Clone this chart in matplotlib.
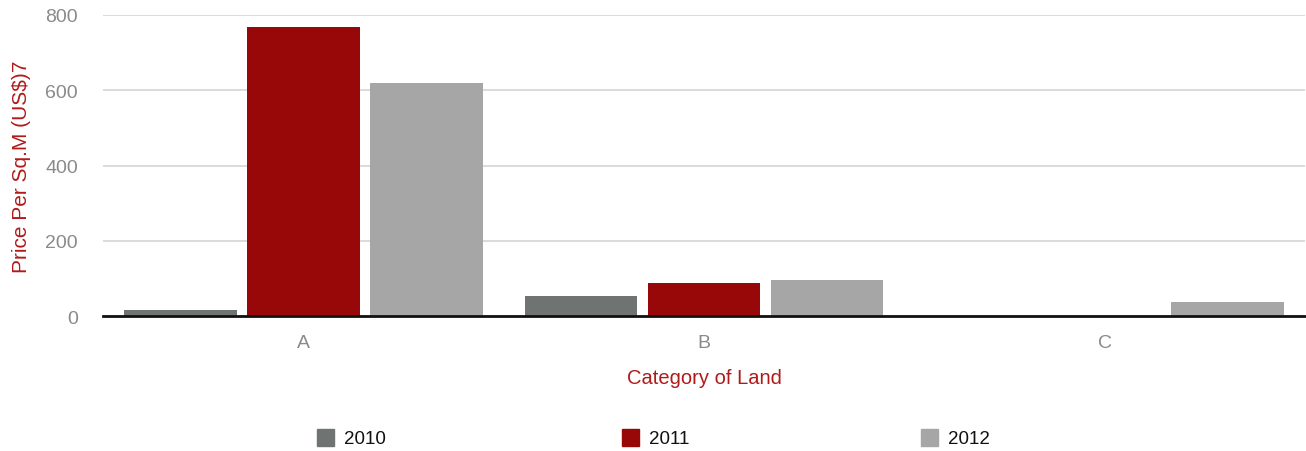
import matplotlib
matplotlib.use("Agg")
import matplotlib.pyplot as plt
import numpy as np
from matplotlib.patches import Rectangle

categories = ["A", "B", "C"]
years = ["2010", "2011", "2012"]
values_2010 = [16, 53, 0]
values_2011 = [769, 88, 0]
values_2012 = [620, 96, 37]
colors = ["#6f7472", "#990808", "#a6a6a6"]

plt.rcParams["font.family"] = ["Liberation Sans", "DejaVu Sans"]

W, H = 1306, 452
fig = plt.figure(figsize=(W / 100, H / 100), dpi=100)
ax = fig.add_axes([103 / W, 1 - 317 / H, 1202 / W, 301 / H])

x = np.arange(len(categories))
bar_w = 0.282
stride = 0.307
for i, (vals, col) in enumerate(zip([values_2010, values_2011, values_2012], colors)):
    ax.bar(x + (i - 1) * stride, vals, width=bar_w, color=col, zorder=2)

ax.set_xlim(-0.5, 2.5)
ax.set_ylim(0, 800)
ax.set_yticks([0, 200, 400, 600, 800])
ax.set_xticks(x)
ax.set_xticklabels(categories)
ax.grid(axis="y", color="#d4d4d4", linewidth=1.2, zorder=0)
for s in ["top", "right", "left"]:
    ax.spines[s].set_visible(False)
ax.spines["bottom"].set_color("#111111")
ax.spines["bottom"].set_linewidth(2)
ax.spines["bottom"].set_zorder(3)
ax.tick_params(axis="both", length=0, labelsize=14, colors="#8a8a8a")
ax.tick_params(axis="y", pad=18)
ax.tick_params(axis="x", pad=13)

red = "#b01a1a"
ax.set_ylabel("Price Per Sq.M (US$)7", color=red, fontsize=15)
ax.yaxis.set_label_coords(-72 / 1202, 0.5)
ax.set_xlabel("Category of Land", color=red, fontsize=14.5, labelpad=12)

# legend along the bottom
legend_x = [317, 622, 921]
for lx, yr, col in zip(legend_x, years, colors):
    fig.patches.append(Rectangle((lx / W, 1 - 447 / H), 17 / W, 17 / H,
                                 transform=fig.transFigure, color=col))
    fig.text((lx + 27) / W, 1 - 440 / H, yr, fontsize=13.5, color="#111111",
             va="center", ha="left")

fig.savefig("out.png", dpi=100)
